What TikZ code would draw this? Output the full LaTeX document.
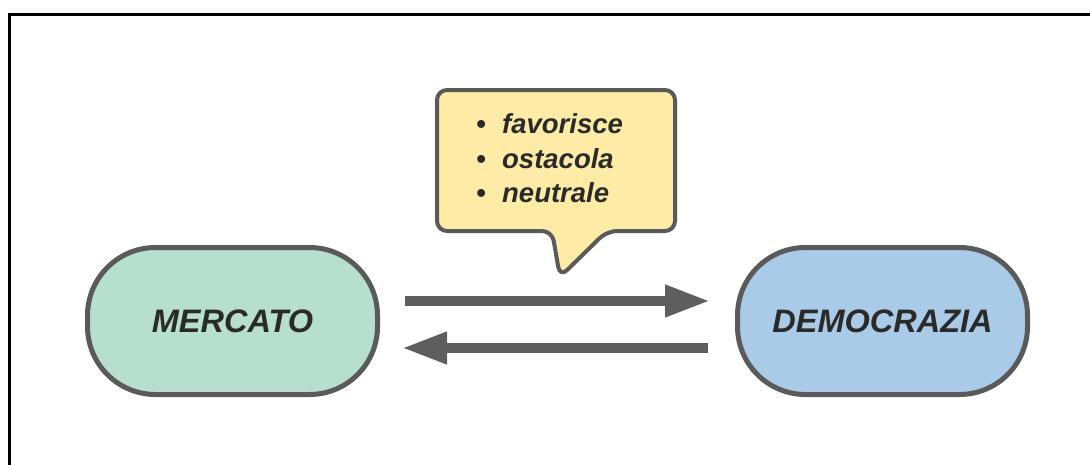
\documentclass[tikz,border=0pt]{standalone}
\usepackage{fontspec}
\setmainfont{Liberation Sans}
\usetikzlibrary{arrows.meta}

\definecolor{edgegray}{HTML}{5A5A5A}
\definecolor{arrowgray}{HTML}{5E5E5E}
\definecolor{textdark}{HTML}{2A2A2A}
\definecolor{mintfill}{HTML}{B6DFCF}
\definecolor{skyfill}{HTML}{A9CBE7}
\definecolor{notefill}{HTML}{FDEBA6}

\tikzset{
  pill/.style={draw=edgegray, line width=5pt, rounded corners=68pt,
    minimum width=290pt, minimum height=147pt, inner sep=0pt,
    text=textdark, font=\fontsize{32.5}{38}\selectfont\bfseries\itshape},
  flow/.style={draw=arrowgray, line width=10pt,
    -{Triangle[length=45pt,width=30pt]}},
  notebox/.style={draw=edgegray, fill=notefill, line width=4pt,
    rounded corners=10pt, line join=round},
  noteline/.style={anchor=base west, inner sep=0pt, text=textdark,
    font=\fontsize{27.5}{32}\selectfont\bfseries\itshape},
}

\begin{document}
\begin{tikzpicture}[x=1pt, y=-1pt]
  \useasboundingbox (0,0) rectangle (1090,464);

  % outer frame (only top and left edges fall inside the page)
  \draw[line width=3pt, black] (9,470) -- (9,14) -- (1095,14);

  % the two concepts
  \node[pill, fill=mintfill] (merc) at (232.5,321) {MERCATO};
  \node[pill, fill=skyfill]  (demo) at (882.5,321) {DEMOCRAZIA};

  % mutual influence arrows
  \draw[flow] ([xshift=25pt, yshift=20pt]merc.east)
           -- ([xshift=-25pt, yshift=20pt]demo.west);
  \draw[flow] ([xshift=-27pt, yshift=-27pt]demo.west)
           -- ([xshift=22pt, yshift=-27pt]merc.east);

  % speech bubble with the possible relations
  \draw[notebox] (437,90) -- (675,90) -- (675,231) -- (607,231)
                 -- (560,277) -- (552,231) -- (437,231) -- cycle;
  \node[noteline] (r1) at (476,133) {\makebox[26pt][l]{•}favorisce};
  \node[noteline] (r2) at (476,168) {\makebox[26pt][l]{•}ostacola};
  \node[noteline] (r3) at (476,202) {\makebox[26pt][l]{•}neutrale};
\end{tikzpicture}
\end{document}
